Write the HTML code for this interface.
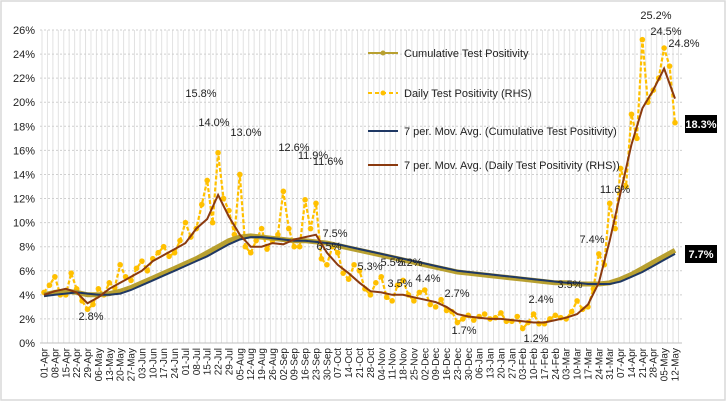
<!DOCTYPE html>
<html><head><meta charset="utf-8"><style>
html,body{margin:0;padding:0;background:#fff}
svg{display:block;font-family:"Liberation Sans",Arial,sans-serif}
</style></head><body>
<svg id="c" width="726" height="401"></svg>
<script>
const weekLabels=["01-Apr","08-Apr","15-Apr","22-Apr","29-Apr","06-May","13-May","20-May","27-May","03-Jun","10-Jun","17-Jun","24-Jun","01-Jul","08-Jul","15-Jul","22-Jul","29-Jul","05-Aug","12-Aug","19-Aug","26-Aug","02-Sep","09-Sep","16-Sep","23-Sep","30-Sep","07-Oct","14-Oct","21-Oct","28-Oct","04-Nov","11-Nov","18-Nov","25-Nov","02-Dec","09-Dec","16-Dec","23-Dec","30-Dec","06-Jan","13-Jan","20-Jan","27-Jan","03-Feb","10-Feb","17-Feb","24-Feb","03-Mar","10-Mar","17-Mar","24-Mar","31-Mar","07-Apr","14-Apr","21-Apr","28-Apr","05-May","12-May"];
const yTicks=[0,2,4,6,8,10,12,14,16,18,20,22,24,26];
const dailyPos=[4.2,5.5,4.0,4.5,2.8,4.5,5.0,6.5,5.2,6.8,7.0,8.0,7.5,10.0,9.5,13.5,15.8,11.0,14.0,7.5,9.5,8.5,12.6,8.0,11.9,11.6,6.5,7.5,5.3,6.0,4.0,5.5,3.5,5.2,3.5,4.4,3.0,2.7,1.7,2.3,2.2,2.0,2.5,1.8,1.2,2.4,1.6,2.3,2.0,3.5,3.0,7.4,11.6,14.5,19.0,25.2,21.0,24.5,18.3];
const dailyPosMid=[4.8,4.0,5.8,3.5,3.2,4.0,4.6,5.5,6.2,6.0,7.5,7.2,8.5,8.8,11.5,10.0,12.0,9.0,8.0,8.5,7.8,9.0,9.5,8.0,9.5,7.0,8.0,5.8,6.5,4.5,5.0,3.8,4.8,4.0,4.2,3.2,3.6,2.6,2.0,1.9,2.4,2.1,1.8,2.2,1.7,1.6,2.0,2.1,2.6,2.8,4.5,6.5,9.5,13.0,17.0,20.0,22.0,23.0];
const dailyMA=[4.0,4.3,4.5,4.2,3.3,3.8,4.5,5.0,5.5,6.0,6.8,7.3,7.8,8.3,9.5,10.3,12.3,10.5,9.0,8.0,8.0,8.3,8.2,8.6,8.8,9.0,7.5,6.5,5.8,5.0,4.3,4.2,4.0,4.0,3.8,3.6,3.4,3.0,2.4,2.2,2.1,2.0,2.0,1.9,1.8,1.7,1.7,1.9,2.1,2.4,3.2,5.0,8.5,12.5,16.5,19.5,21.0,22.8,20.3];
const cumPos=[4.0,4.2,4.3,4.2,4.0,4.0,4.1,4.3,4.6,5.0,5.4,5.8,6.2,6.6,7.0,7.5,8.0,8.5,8.8,8.9,8.8,8.7,8.6,8.5,8.5,8.4,8.3,8.1,7.9,7.7,7.5,7.3,7.1,6.9,6.7,6.5,6.3,6.1,5.9,5.8,5.7,5.6,5.5,5.4,5.3,5.2,5.1,5.0,5.0,4.9,4.9,4.9,5.0,5.3,5.7,6.2,6.7,7.2,7.7];
const cumMA=[3.9,4.0,4.1,4.2,4.1,4.0,4.0,4.1,4.4,4.8,5.2,5.6,6.0,6.4,6.8,7.2,7.7,8.2,8.6,8.8,8.8,8.7,8.6,8.5,8.5,8.4,8.3,8.2,8.0,7.8,7.6,7.4,7.2,7.0,6.8,6.6,6.4,6.2,6.0,5.9,5.8,5.7,5.6,5.5,5.4,5.3,5.2,5.1,5.0,5.0,4.9,4.9,4.9,5.1,5.5,5.9,6.4,6.9,7.4];
const legendNames=["Cumulative Test Positivity","Daily Test Positivity (RHS)","7 per. Mov. Avg. (Cumulative Test Positivity)","7 per. Mov. Avg. (Daily Test Positivity (RHS))"];
const annTexts=["2.8%","15.8%","14.0%","13.0%","12.6%","11.9%","11.6%","7.5%","6.5%","5.3%","5.5%","5.2%","3.5%","4.4%","2.7%","1.7%","1.2%","2.4%","3.5%","7.4%","11.6%","25.2%","24.5%","24.8%"];
const annPos=[[91,320],[201,97],[214,126],[246,136],[294,151],[313,159],[328,165],[335,237],[329,250],[370,270],[393,266],[410,266],[400,287],[428,282],[457,297],[464,334],[536,342],[541,303],[570,288],[592,243],[615,193],[656,19],[666,35],[684,47]];

const NS="http://www.w3.org/2000/svg";
const svg=document.getElementById('c');
const X0=44,X1=675,Y0=343,YT=30;
const x=i=>X0+i*(X1-X0)/(weekLabels.length-1);
const y=v=>Y0-v*(Y0-YT)/26;
function mk(t,a,p){const e=document.createElementNS(NS,t);for(const k in a)e.setAttribute(k,a[k]);(p||svg).appendChild(e);return e;}
let e;
e=mk('rect',{x:1,y:1,width:724,height:399,fill:'#fff',stroke:'#d9d9d9','stroke-width':1.5});


const g=mk('g',{stroke:'#e2e2e2','stroke-width':1});


for(let k=0;k<=(weekLabels.length-1)*2+1;k++){const xx=X0-2+k*(X1-X0)/((weekLabels.length-1)*2);if(xx<=X1+6)mk('line',{x1:xx,x2:xx,y1:YT,y2:Y0},g);}
yTicks.forEach(t=>{
  e=mk('line',{x1:40,x2:682,y1:y(t),y2:y(t),stroke:t===0?'#bfbfbf':'#cfcfcf','stroke-dasharray':t===0?'':'2,2'});
  
  
  e=mk('text',{x:35,y:y(t)+4,'text-anchor':'end','font-size':11,fill:'#222'});e.textContent=t+'%';
  
  
});
weekLabels.forEach((l,i)=>{
  e=mk('text',{transform:`translate(${x(i)+3.5},348) rotate(-90)`,'text-anchor':'end','font-size':10,fill:'#222'});e.textContent=l;
  
  
});
const pts=a=>a.map((v,i)=>x(i).toFixed(1)+','+y(v).toFixed(1)).join(' ');
// merge weekly and mid-week readings into one daily series
const dailyPts=[];
dailyPos.forEach((v,i)=>{dailyPts.push([x(i),y(v)]);if(i<dailyPosMid.length)dailyPts.push([x(i+0.5),y(dailyPosMid[i])]);});
e=mk('polyline',{points:dailyPts.map(p=>p[0].toFixed(1)+','+p[1].toFixed(1)).join(' '),fill:'none',stroke:'#ffc000','stroke-width':2.2,'stroke-dasharray':'4,2'});


dailyPts.forEach(p=>{e=mk('circle',{cx:p[0],cy:p[1],r:2.8,fill:'#ffc000'});
  
  });
e=mk('polyline',{points:pts(cumPos),fill:'none',stroke:'#b8a030','stroke-width':5});


e=mk('polyline',{points:pts(cumMA),fill:'none',stroke:'#1f3864','stroke-width':2});


e=mk('polyline',{points:pts(dailyMA),fill:'none',stroke:'#8b3a0f','stroke-width':2});


annTexts.forEach((t,i)=>{e=mk('text',{x:annPos[i][0],y:annPos[i][1],'text-anchor':'middle','font-size':11,fill:'#222'});e.textContent=t;
  
  });
[[18.3,'18.3%',124],[7.7,'7.7%',254]].forEach(b=>{
  e=mk('rect',{x:685,y:b[2]-9,width:32,height:18,fill:'#000'});
  
  
  e=mk('text',{x:701,y:b[2]+4,'text-anchor':'middle','font-size':11,fill:'#fff','font-weight':'bold'});e.textContent=b[1];
  
  
});
const ly=[53,93,131,165];
const lc=['#b8a030','#ffc000','#1f3864','#8b3a0f'];
legendNames.forEach((n,i)=>{
  const lg=mk('g',{});
  
  
  mk('line',{x1:368,x2:398,y1:ly[i],y2:ly[i],stroke:lc[i],'stroke-width':2,'stroke-dasharray':i===1?'4,3':''},lg);
  if(i<2)mk('circle',{cx:383,cy:ly[i],r:2.5,fill:lc[i]},lg);
  const t=mk('text',{x:404,y:ly[i]+4,'font-size':11,fill:'#222'},lg);t.textContent=n;
});
</script>
</body></html>
